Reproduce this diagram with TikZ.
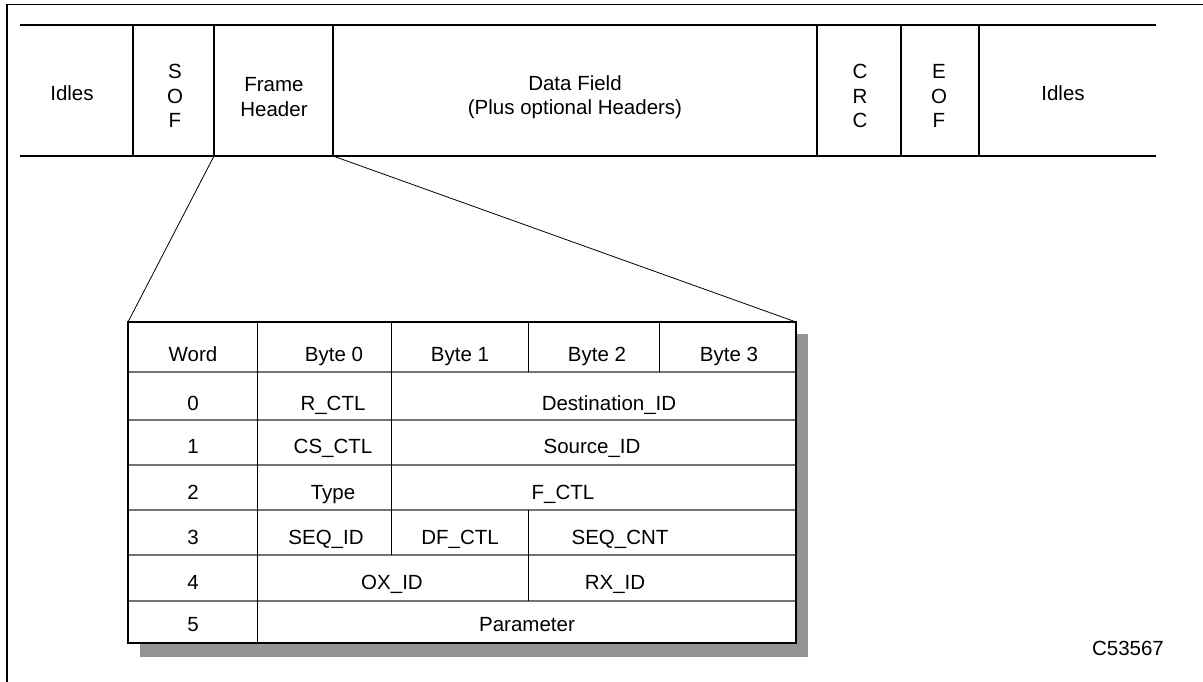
\documentclass[tikz,border=0pt]{standalone}
\usepackage{fontspec}
\setmainfont{Liberation Sans}
\begin{document}
\begin{tikzpicture}[x=1pt,y=-1pt,
  lbl/.style={font=\fontsize{20.5}{24.5}\selectfont, inner sep=0pt, align=center},
  cell/.style={lbl, anchor=base},
  barline/.style={line width=2.8pt, black},
  frame/.style={line width=1.4pt, black},
  hrule/.style={line width=1.2pt, black!55},
  vrule/.style={line width=0.9pt, black},
  link/.style={line width=0.8pt, black}]
\useasboundingbox (0,0) rectangle (1203,682);

% outer frame (top and left edges only)
\draw[frame] (7,682) -- (7,4.5) -- (1203,4.5);

% ---- frame layout bar ----
\draw[barline] (20,25) -- (1156,25);
\draw[barline] (20,156) -- (1156,156);
\foreach \x in {133,214,333,817,901,979}
  \draw[barline] (\x,25) -- (\x,156);

\node[cell] (idlesL) at (72,101) {Idles};
\node[lbl] (sof) at (175,96) {S\\O\\F};
\node[lbl] (hdr) at (274,97) {Frame\\Header};
\node[lbl] (data) at (575,97) {Data Field\\(Plus optional Headers)};
\node[lbl] (crc) at (860,96) {C\\R\\C};
\node[lbl] (eof) at (939,96) {E\\O\\F};
\node[cell] (idlesR) at (1063,101) {Idles};

\coordinate (hdrBL) at (214,156);
\coordinate (hdrBR) at (333,156);

% ---- header table ----
\coordinate (tTL) at (128,322);
\coordinate (tTR) at (796,322);
\coordinate (tBR) at (796,643);

% drop shadow
\fill[black!42] (140,334) rectangle (808,657);
\fill[white] (128,322) rectangle (796,643);

% horizontal row rules
\foreach \y in {372,420,465,510,555,601}
  \draw[hrule] (128,\y) -- (796,\y);
% vertical column rules
\draw[vrule] (257,322) -- (257,643);
\draw[vrule] (391,322) -- (391,555);
\draw[vrule] (528,322) -- (528,372);
\draw[vrule] (528,510) -- (528,601);
\draw[vrule] (659,322) -- (659,372);
% table border
\draw[line width=2.8pt] (tTL) rectangle (tBR);

% header row
\node[cell] (cWord) at (193,361) {Word};
\node[cell] (cB0) at (334,361) {Byte 0};
\node[cell] (cB1) at (460,361) {Byte 1};
\node[cell] (cB2) at (597,361) {Byte 2};
\node[cell] (cB3) at (729,361) {Byte 3};
% word 0
\node[cell] (w0) at (193,410) {0};
\node[cell] (rctl) at (333,410) {R\_CTL};
\node[cell] (did) at (609,410) {Destination\_ID};
% word 1
\node[cell] (w1) at (193,453) {1};
\node[cell] (csctl) at (333,453) {CS\_CTL};
\node[cell] (sid) at (592,453) {Source\_ID};
% word 2
\node[cell] (w2) at (193,499) {2};
\node[cell] (type) at (333,499) {Type};
\node[cell] (fctl) at (563,499) {F\_CTL};
% word 3
\node[cell] (w3) at (193,544) {3};
\node[cell] (seqid) at (326,544) {SEQ\_ID};
\node[cell] (dfctl) at (460,544) {DF\_CTL};
\node[cell] (seqcnt) at (620,544) {SEQ\_CNT};
% word 4
\node[cell] (w4) at (193,589) {4};
\node[cell] (oxid) at (392,589) {OX\_ID};
\node[cell] (rxid) at (615,589) {RX\_ID};
% word 5
\node[cell] (w5) at (193,631) {5};
\node[cell] (param) at (527,631) {Parameter};

% expansion lines from the frame header to the table
\draw[link] (hdrBL) -- (tTL);
\draw[link] (hdrBR) -- (tTR);

\node[cell] (ref) at (1128,655) {C53567};
\end{tikzpicture}
\end{document}
